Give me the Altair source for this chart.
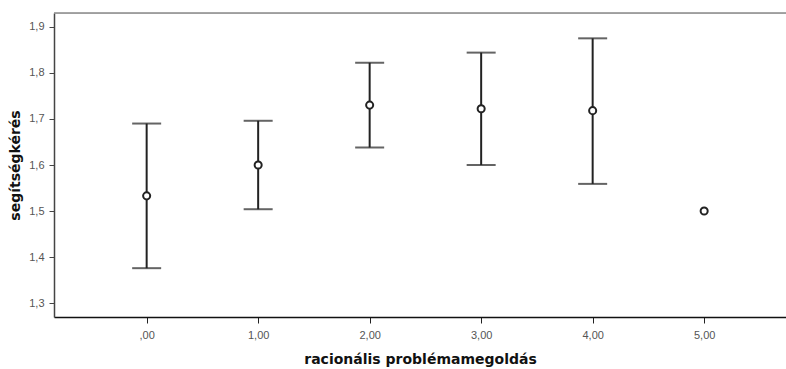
import altair as alt
import pandas as pd

categories = [0, 1, 2, 3, 4, 5]
means = [1.533, 1.600, 1.730, 1.722, 1.718, 1.500]
lowers = [1.376, 1.504, 1.638, 1.600, 1.559, None]
uppers = [1.690, 1.696, 1.822, 1.844, 1.875, None]

df = pd.DataFrame({"cat": categories, "mean": means, "lower": lowers, "upper": uppers})

xscale = alt.Scale(domain=[-0.831, 5.734], nice=False, zero=False)
yscale = alt.Scale(domain=[1.27, 1.93], nice=False, zero=False)

x_axis = alt.Axis(
    title="racionális problémamegoldás",
    values=[0, 1, 2, 3, 4, 5],
    labelExpr="datum.value == 0 ? ',00' : replace(format(datum.value, '.2f'), '.', ',')",
    grid=False, tickSize=6, tickColor="#222", domainColor="#111", domainWidth=1.5,
    labelFont="Liberation Sans", labelFontSize=11, labelColor="#555", labelPadding=6,
    titleFont="DejaVu Sans", titleFontSize=14, titleFontWeight="bold", titleColor="#111",
    titlePadding=12,
)
y_axis = alt.Axis(
    title="segítségkérés",
    values=[1.3, 1.4, 1.5, 1.6, 1.7, 1.8, 1.9],
    labelExpr="replace(format(datum.value, '.1f'), '.', ',')",
    grid=False, tickSize=5, tickColor="#444", domainColor="#444", domainWidth=1.5,
    labelFont="Liberation Sans", labelFontSize=11, labelColor="#555", labelPadding=5,
    titleFont="DejaVu Sans", titleFontSize=14, titleFontWeight="bold", titleColor="#111",
    titlePadding=6,
)

base = alt.Chart(df)
valid = base.transform_filter("isValid(datum.lower)")

rules = valid.mark_rule(color="#222", strokeWidth=2).encode(
    x=alt.X("cat:Q", scale=xscale, axis=x_axis),
    y=alt.Y("lower:Q", scale=yscale, axis=y_axis),
    y2="upper:Q",
)
cap_lo = valid.mark_tick(color="#222", orient="horizontal", size=29, thickness=2).encode(
    x=alt.X("cat:Q", scale=xscale), y=alt.Y("lower:Q", scale=yscale)
)
cap_hi = valid.mark_tick(color="#222", orient="horizontal", size=29, thickness=2).encode(
    x=alt.X("cat:Q", scale=xscale), y=alt.Y("upper:Q", scale=yscale)
)
points = base.mark_point(shape="circle", filled=True, fill="white", stroke="#222",
                         strokeWidth=2, size=50, opacity=1).encode(
    x=alt.X("cat:Q", scale=xscale), y=alt.Y("mean:Q", scale=yscale)
)
top_line = alt.Chart(pd.DataFrame({"a": [0]})).mark_rule(color="#888", strokeWidth=1.5).encode(
    x=alt.value(0), x2=alt.value(732), y=alt.value(0)
)

chart = alt.layer(top_line, rules, cap_lo, cap_hi, points).properties(
    width=732, height=304,
    padding={"left": 54, "top": 13, "right": 0, "bottom": 52},
    autosize=alt.AutoSizeParams(type="none"),
).configure_view(stroke=None).configure(background="white")

chart.save("out.html", embed_options={"renderer": "svg", "actions": False})
